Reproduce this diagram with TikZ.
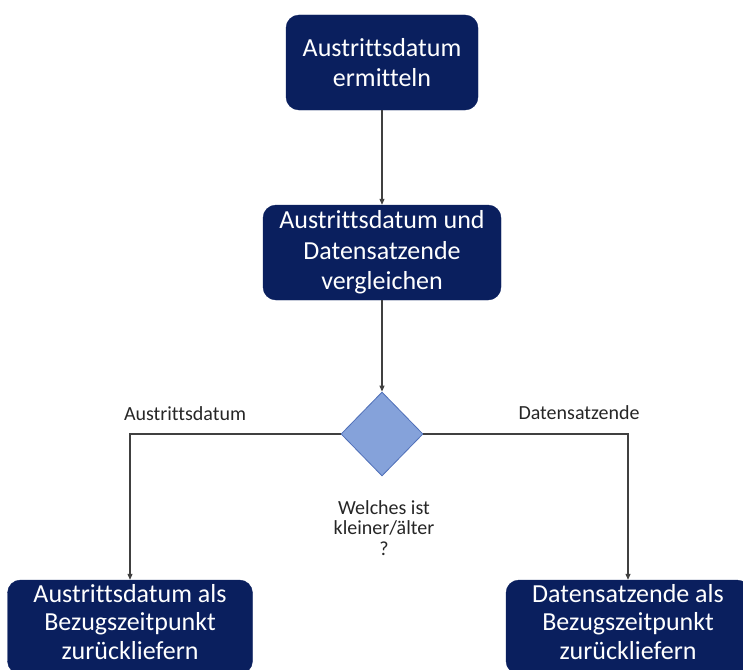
\documentclass[tikz,border=0pt]{standalone}
\usepackage{fontspec}
\setmainfont{Carlito}[Ligatures=NoCommon]
\usetikzlibrary{shapes.geometric,arrows.meta}
\definecolor{navy}{HTML}{0A1F5E}
\definecolor{decfill}{HTML}{85A2DA}
\definecolor{decline}{HTML}{4F6FB8}
\definecolor{wire}{HTML}{404040}
\begin{document}
\begin{tikzpicture}[x=1pt,y=-1pt,
  procbox/.style={draw=navy,fill=navy,rounded corners=13pt,text=white,align=center,
    inner sep=0pt,font=\fontsize{26}{30.5}\selectfont},
  decbox/.style={diamond,draw=decline,fill=decfill,line width=0.8pt,inner sep=0pt,
    minimum width=82pt,minimum height=84pt},
  lbl/.style={align=center,text=black!85,font=\fontsize{20}{20.5}\selectfont},
  wireline/.style={draw=wire,line width=1.1pt,-{Triangle[length=6pt,width=5pt]}}]
\useasboundingbox (0,0) rectangle (743,669);
\begin{scope}
\clip (0,0) rectangle (743,669);
\node[procbox,minimum width=192pt,minimum height=95pt] (start) at (382,62.5)
  {Austrittsdatum\\ermitteln};
\node[procbox,minimum width=238pt,minimum height=95pt] (cmp) at (382,252.5)
  {Austrittsdatum und\\Datensatzende\\vergleichen};
\node[decbox] (dec) at (382,434) {};
\node[procbox,minimum width=245pt,minimum height=94pt] (resA) at (130,627) {};
\node[procbox,minimum width=244pt,minimum height=94pt] (resB) at (628,627) {};
\end{scope}
\node[align=center,text=white,font=\fontsize{26}{28.5}\selectfont] (resAtext)
  at (130,622) {Austrittsdatum als\\Bezugszeitpunkt\\zurückliefern};
\node[align=center,text=white,font=\fontsize{26}{28.5}\selectfont] (resBtext)
  at (628,622) {Datensatzende als\\Bezugszeitpunkt\\zurückliefern};
\draw[wireline] (start.south) -- (cmp.north);
\draw[wireline] (cmp.south) -- (dec.north);
\draw[wireline] (dec.west) -| (resA.north);
\draw[wireline] (dec.east) -| (resB.north);
\node[lbl] (labA) at (185,414) {Austrittsdatum};
\node[lbl] (labB) at (579,413) {Datensatzende};
\node[lbl] (q) at (384,528) {Welches ist\\kleiner/älter\\?};
\end{tikzpicture}
\end{document}
